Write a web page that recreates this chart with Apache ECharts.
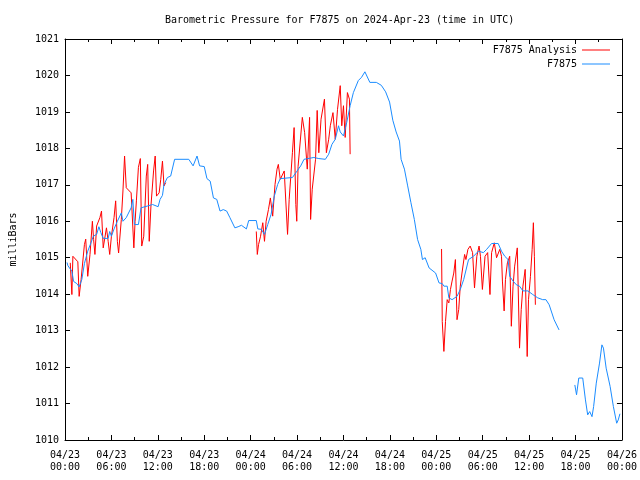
<!DOCTYPE html>
<html>
<head>
<meta charset="utf-8">
<script src="https://cdn.jsdelivr.net/npm/echarts@6/dist/echarts.min.js"></script>
<style>html,body{margin:0;padding:0;background:#fff}#c{width:640px;height:480px}</style>
</head>
<body>
<div id="c"></div>
<script>
// Hours since 2024-04-23 00:00 UTC, and pressure in milliBars
const blueHours = [0.26,0.38,0.89,1.11,1.53,1.83,2.17,2.51,2.94,3.36,3.66,4.09,4.38,4.63,4.94,5.58,5.78,6.0,6.34,6.77,7.28,7.49,7.92,8.55,8.77,8.97,9.49,9.83,10.69,11.32,12.04,12.29,12.6,12.8,13.24,13.66,14.17,16.0,16.56,17.07,17.4,18.0,18.35,18.77,19.19,19.62,20.04,20.46,20.9,21.32,21.96,22.38,22.81,23.45,23.75,24.73,24.93,25.37,25.79,26.21,26.64,27.06,27.49,27.83,29.4,29.84,30.47,30.9,32.17,32.81,33.66,34.09,34.51,34.94,35.36,35.58,36.0,36.42,36.86,37.28,37.92,38.34,38.77,39.41,40.25,40.89,41.45,41.96,42.38,42.81,43.24,43.45,43.88,44.3,44.72,45.16,45.58,46.0,46.21,46.56,47.07,47.91,48.35,48.77,48.98,49.41,49.62,50.04,50.68,51.1,51.54,52.17,52.81,53.45,54.09,54.51,55.15,56.0,56.43,56.85,57.28,57.49,57.92,58.34,58.76,59.2,59.84,60.47,61.11,61.75,62.17,62.59,63.23,63.87,65.0,65.91,66.13,66.42,66.93,67.28,67.57,67.83,68.13,68.34,68.68,69.1,69.41,69.61,69.96,70.47,70.89,71.32,71.52,71.74];
const bluePressure = [1014.87,1014.78,1014.63,1014.35,1014.29,1014.2,1014.4,1014.84,1015.18,1015.41,1015.59,1015.64,1015.85,1015.69,1015.53,1015.53,1015.72,1015.59,1015.79,1016.0,1016.23,1016.0,1016.1,1016.37,1016.6,1015.91,1015.91,1016.37,1016.42,1016.46,1016.4,1016.6,1016.71,1017.01,1017.2,1017.24,1017.7,1017.7,1017.52,1017.79,1017.52,1017.5,1017.17,1017.1,1016.64,1016.6,1016.28,1016.32,1016.28,1016.1,1015.82,1015.85,1015.89,1015.79,1016.02,1016.02,1015.79,1015.78,1015.64,1015.91,1016.19,1016.69,1017.01,1017.17,1017.2,1017.33,1017.52,1017.7,1017.75,1017.72,1017.7,1017.84,1018.11,1018.25,1018.62,1018.45,1018.34,1018.71,1019.17,1019.53,1019.86,1019.95,1020.1,1019.81,1019.81,1019.73,1019.55,1019.27,1018.77,1018.45,1018.2,1017.7,1017.43,1016.97,1016.51,1016.05,1015.5,1015.23,1014.95,1015.0,1014.72,1014.58,1014.31,1014.29,1014.22,1014.22,1013.9,1013.85,1013.94,1014.13,1014.4,1014.95,1015.04,1015.18,1015.14,1015.23,1015.39,1015.39,1015.18,1015.04,1014.95,1014.49,1014.36,1014.26,1014.22,1014.09,1014.09,1013.99,1013.9,1013.85,1013.85,1013.71,1013.3,1013.02,null,1011.51,1011.24,1011.7,1011.7,1011.1,1010.69,1010.78,1010.64,1010.92,1011.56,1012.11,1012.61,1012.52,1011.97,1011.47,1010.92,1010.46,1010.55,1010.72];

const redHours = [0.68,0.89,1.02,1.66,1.83,2.08,2.51,2.68,2.94,3.23,3.54,3.7,3.87,4.09,4.51,4.72,4.94,5.36,5.58,5.78,6.0,6.34,6.55,6.77,6.93,7.28,7.49,7.7,7.92,8.55,8.9,9.06,9.23,9.49,9.74,9.92,10.18,10.51,10.69,10.89,11.11,11.45,11.66,11.83,12.17,12.38,12.6,12.8,13.02,
  18.0,
  24.73,24.86,25.02,25.28,25.57,25.79,26.0,26.3,26.55,26.85,27.15,27.41,27.58,27.83,28.34,28.56,28.77,28.98,29.4,29.62,29.84,29.96,30.13,30.68,30.98,31.32,31.62,31.75,31.96,32.39,32.6,32.81,33.1,33.54,33.79,34.09,34.3,34.64,34.94,35.23,35.58,35.78,36.0,36.22,36.51,36.77,36.86,
  42.0,
  48.68,48.77,48.98,49.19,49.41,49.62,49.83,50.04,50.26,50.47,50.68,50.9,51.1,51.32,51.66,51.83,52.09,52.38,52.69,52.94,53.24,53.53,53.71,53.96,54.3,54.64,54.94,55.15,55.5,55.79,56.04,56.21,56.43,56.55,56.77,56.94,57.19,57.49,57.7,57.92,58.13,58.47,58.64,58.76,58.98,59.2,59.49,59.75,59.92,60.17,60.39,60.55,60.68,60.81];
const redPressure = [1014.86,1013.99,1015.04,1014.89,1013.94,1014.4,1015.36,1015.51,1014.49,1015.09,1016.0,1015.5,1015.09,1015.87,1016.1,1016.28,1015.27,1015.82,1015.45,1015.09,1015.59,1016.1,1016.56,1015.45,1015.13,1016.05,1016.83,1017.79,1016.92,1016.78,1015.27,1016.0,1016.56,1017.48,1017.72,1015.32,1015.59,1017.24,1017.56,1015.45,1016.42,1017.38,1017.79,1016.69,1016.78,1017.15,1017.65,1016.97,1017.06,
  null,
  1015.72,1015.09,1015.36,1015.59,1015.96,1015.45,1016.0,1016.32,1016.64,1016.14,1017.01,1017.43,1017.56,1017.15,1017.38,1017.43,1015.64,1016.6,1017.88,1018.57,1016.46,1016.0,1017.5,1018.85,1018.43,1017.43,1018.85,1016.05,1016.88,1017.7,1019.04,1017.88,1018.8,1019.35,1017.88,1018.25,1018.62,1018.98,1018.25,1019.07,1019.72,1018.62,1019.17,1018.3,1019.53,1019.35,1017.84,
  null,
  1015.24,1013.25,1012.43,1013.25,1013.85,1013.76,1014.13,1014.36,1014.58,1014.95,1013.3,1013.58,1014.22,1014.58,1015.09,1014.95,1015.23,1015.32,1015.14,1014.17,1015.04,1015.32,1015.04,1014.13,1015.04,1015.14,1013.99,1015.14,1015.41,1015.0,1015.0,1015.23,1015.04,1014.36,1013.54,1014.4,1014.86,1015.04,1013.12,1014.22,1014.77,1015.27,1015.32,1012.52,1013.58,1014.22,1014.68,1012.29,1013.85,1014.49,1015.23,1015.96,1015.04,1013.71];

const xTickHours = [0,6,12,18,24,30,36,42,48,54,60,66,72];
const yTicks = [1010,1011,1012,1013,1014,1015,1016,1017,1018,1019,1020,1021];

function pairs(hs, ps) {
  return hs.map((h, i) => [h, ps[i] === null ? '-' : ps[i]]);
}
function xLabel(h) {
  const day = 23 + Math.floor(h / 24);
  const hr = h % 24;
  return '04/' + day + '\n' + (hr < 10 ? '0' : '') + hr + ':00';
}

const FONT = 'DejaVu Sans Mono';
const chart = echarts.init(document.getElementById('c'), null, {renderer: 'canvas'});
const xCommon = {
  type: 'value', min: xTickHours[0], max: xTickHours[xTickHours.length - 1], interval: 6,
  axisLine: {show: true, onZero: false, lineStyle: {color: '#000', width: 1}},
  axisTick: {show: true, inside: true, length: 5, lineStyle: {color: '#000'}},
  minorTick: {show: true, splitNumber: 2, length: 3, lineStyle: {color: '#000'}},
  splitLine: {show: false}
};
const yCommon = {
  type: 'value', min: yTicks[0], max: yTicks[yTicks.length - 1], interval: 1,
  axisLine: {show: true, onZero: false, lineStyle: {color: '#000', width: 1}},
  axisTick: {show: true, inside: true, length: 5, lineStyle: {color: '#000'}},
  splitLine: {show: false}
};
chart.setOption({
  animation: false,
  backgroundColor: '#fff',
  textStyle: {fontFamily: FONT},
  title: {
    text: 'Barometric Pressure for F7875 on 2024-Apr-23 (time in UTC)',
    left: 165, top: 15, padding: 0,
    textStyle: {fontFamily: FONT, fontSize: 10, fontWeight: 'normal', color: '#000'}
  },
  legend: {
    orient: 'vertical', right: 25, top: 40, align: 'right',
    itemWidth: 28, itemHeight: 1, itemGap: 4, icon: 'rect',
    textStyle: {fontFamily: FONT, fontSize: 10, color: '#000', padding: [0, 0, 0, 0]},
    data: ['F7875 Analysis', 'F7875']
  },
  grid: {left: 58, right: 18, top: 39, bottom: 40},
  xAxis: [
    Object.assign({}, xCommon, {
      position: 'bottom',
      axisLabel: {show: true, margin: 9, fontFamily: FONT, fontSize: 10, color: '#000', lineHeight: 12,
        formatter: v => xLabel(v)}
    }),
    Object.assign({}, xCommon, {position: 'top', axisLabel: {show: false}})
  ],
  yAxis: [
    Object.assign({}, yCommon, {
      position: 'left',
      name: 'milliBars', nameLocation: 'middle', nameGap: 47, nameRotate: 90,
      nameTextStyle: {fontFamily: FONT, fontSize: 10, color: '#000'},
      axisLabel: {show: true, margin: 6, fontFamily: FONT, fontSize: 10, color: '#000',
        formatter: v => String(v)}
    }),
    Object.assign({}, yCommon, {position: 'right', axisLabel: {show: false}})
  ],
  series: [
    {
      name: 'F7875 Analysis', type: 'line', xAxisIndex: 0, yAxisIndex: 0,
      data: pairs(redHours, redPressure), showSymbol: false, symbol: 'none',
      connectNulls: false, lineStyle: {color: '#ff0000', width: 1}, itemStyle: {color: '#ff0000'}
    },
    {
      name: 'F7875', type: 'line', xAxisIndex: 0, yAxisIndex: 0,
      data: pairs(blueHours, bluePressure), showSymbol: false, symbol: 'none',
      connectNulls: false, lineStyle: {color: '#1a8cff', width: 1}, itemStyle: {color: '#1a8cff'}
    }
  ]
});
</script>
</body>
</html>
